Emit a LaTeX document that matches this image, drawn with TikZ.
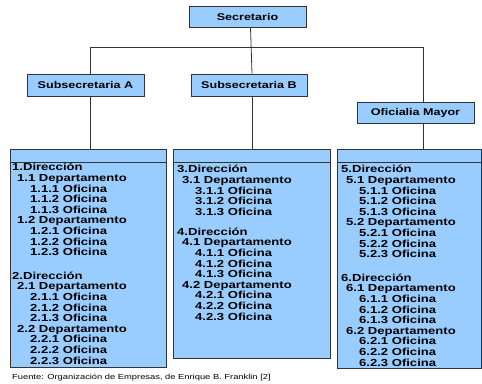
\documentclass[tikz,border=0pt]{standalone}
\usepackage{fontspec}
\setmainfont{Liberation Sans}
\newfontfamily\widefont[FakeStretch=1.28]{Liberation Sans}
\definecolor{boxblue}{HTML}{99CCFF}
\definecolor{edge}{HTML}{333333}

% indentation helpers for the unit lists
\newcommand{\dep}{\hspace*{5pt}}
\newcommand{\ofi}{\hspace*{18pt}}

\begin{document}
\begin{tikzpicture}[x=1pt,y=-1pt,
  unit/.style={draw=edge, line width=0.8pt, fill=boxblue, inner sep=0pt,
    font=\widefont\bfseries\fontsize{9.8}{11}\selectfont},
  column/.style={draw=edge, line width=0.8pt, fill=boxblue},
  link/.style={draw=edge, line width=0.8pt},
  list/.style={anchor=north west, inner sep=0pt, align=left,
    font=\widefont\bfseries\fontsize{10.2}{10.6}\selectfont}]
\useasboundingbox (0,0) rectangle (482,383);

% top level and second level boxes
\node[unit, minimum width=117pt, minimum height=21pt] (sec) at (247.5,16.5) {Secretario};
\node[unit, minimum width=117pt, minimum height=22pt] (subA) at (85.5,85) {Subsecretaria A};
\node[unit, minimum width=116pt, minimum height=22pt] (subB) at (249,85) {Subsecretaria B};
\node[unit, minimum width=117pt, minimum height=21pt] (ofm) at (415.5,112.5) {Oficialia Mayor};

% bus lines
\coordinate (busR) at (423,47);
\draw[link] ([xshift=3pt]sec.south) -- ([xshift=3pt]subB.north);
\draw[link] ([xshift=4.5pt]subA.north) |- (busR) -- ([xshift=7.5pt]ofm.north);

% unit columns with an empty heading strip
\draw[column] (10,149.5) rectangle (166,367);
\draw[link] (10,162) -- (166,162);
\draw[column] (173,149.5) rectangle (330,358);
\draw[link] (173,162) -- (330,162);
\draw[column] (337,149.5) rectangle (481,368);
\draw[link] (337,162) -- (481,162);

\coordinate (c1) at (90,149.5);
\coordinate (c2) at (252,149.5);
\coordinate (c3) at (423,149.5);
\draw[link] ([xshift=4.5pt]subA.south) -- (c1);
\draw[link] ([xshift=3pt]subB.south) -- (c2);
\draw[link] ([xshift=7.5pt]ofm.south) -- (c3);

\node[list] (l1) at (12,160.6) {\rule{0pt}{10pt}1.Dirección\\
\dep1.1 Departamento\\
\ofi1.1.1 Oficina\\
\ofi1.1.2 Oficina\\
\ofi1.1.3 Oficina\\
\dep1.2 Departamento\\
\ofi1.2.1 Oficina\\
\ofi1.2.2 Oficina\\
\ofi1.2.3 Oficina\\[13pt]
2.Dirección\\
\dep2.1 Departamento\\
\ofi2.1.1 Oficina\\
\ofi2.1.2 Oficina\\
\ofi2.1.3 Oficina\\
\dep2.2 Departamento\\
\ofi2.2.1 Oficina\\
\ofi2.2.2 Oficina\\
\ofi2.2.3 Oficina};

\node[list] (l2) at (177,162.6) {\rule{0pt}{10pt}3.Dirección\\
\dep3.1 Departamento\\
\ofi3.1.1 Oficina\\
\ofi3.1.2 Oficina\\
\ofi3.1.3 Oficina\\[9.5pt]
4.Dirección\\
\dep4.1 Departamento\\
\ofi4.1.1 Oficina\\
\ofi4.1.2 Oficina\\
\ofi4.1.3 Oficina\\
\dep4.2 Departamento\\
\ofi4.2.1 Oficina\\
\ofi4.2.2 Oficina\\
\ofi4.2.3 Oficina};

\node[list] (l3) at (341,162.6) {\rule{0pt}{10pt}5.Dirección\\
\dep5.1 Departamento\\
\ofi5.1.1 Oficina\\
\ofi5.1.2 Oficina\\
\ofi5.1.3 Oficina\\
\dep5.2 Departamento\\
\ofi5.2.1 Oficina\\
\ofi5.2.2 Oficina\\
\ofi5.2.3 Oficina\\[13pt]
6.Dirección\\
\dep6.1 Departamento\\
\ofi6.1.1 Oficina\\
\ofi6.1.2 Oficina\\
\ofi6.1.3 Oficina\\
\dep6.2 Departamento\\
\ofi6.2.1 Oficina\\
\ofi6.2.2 Oficina\\
\ofi6.2.3 Oficina};

\node[anchor=west, inner sep=0pt, font=\widefont\fontsize{7.3}{8}\selectfont] (src) at (12,378)
  {Fuente: Organización de Empresas, de Enrique B. Franklin [2]};
\end{tikzpicture}
\end{document}
